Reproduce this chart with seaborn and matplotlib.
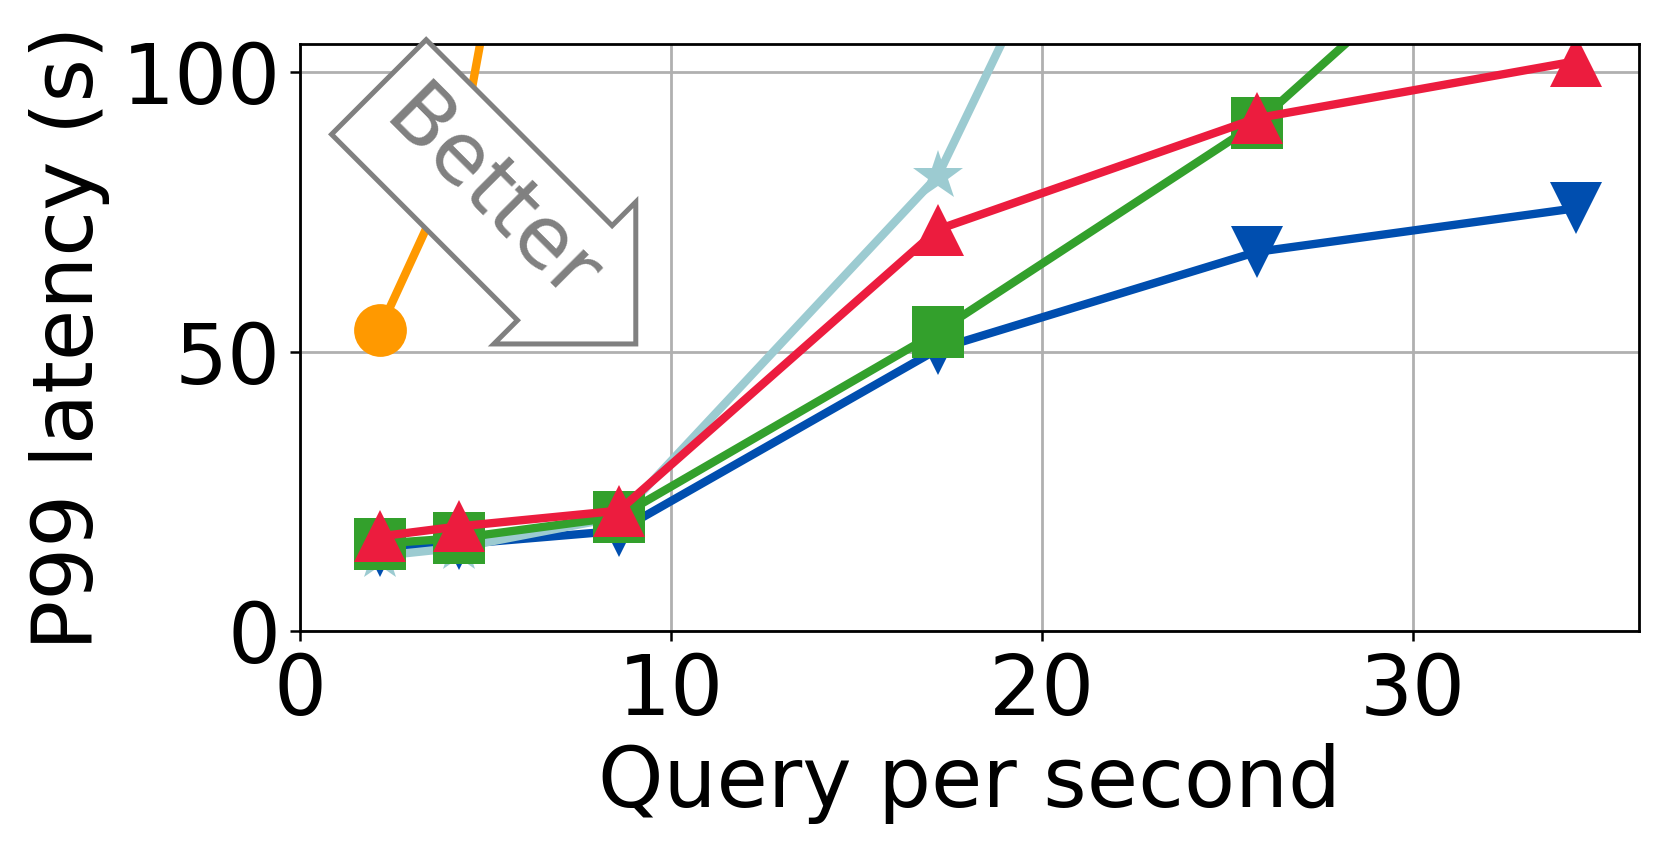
"""
P99 latency vs. query rate for several serving systems.
"""
import matplotlib
matplotlib.use("Agg")
import matplotlib.pyplot as plt
import seaborn as sns

# query rates (x) shared by every series
qps = [2.15, 4.3, 8.6, 17.2, 25.8, 34.4]

# P99 latency in seconds (points above 105 run off the top)
orange_lat = [54.0, 85.0, 240.0]
star_lat = [13.5, 15.0, 20.5, 81.5, 200.0]
blue_lat = [14.3, 15.6, 18.0, 50.5, 67.9, 75.7]
green_lat = [15.7, 16.7, 20.5, 53.6, 90.9, 142.0]
red_lat = [17.0, 18.8, 21.6, 71.9, 91.8, 102.0]

x_ticks = [0, 10, 20, 30]
y_ticks = [0, 50, 100]

series = [
    (orange_lat, "o", "#ff9900"),
    (blue_lat, "v", "#004eaf"),
    (star_lat, "*", "#9ccbd1"),
    (green_lat, "s", "#33a02c"),
    (red_lat, "^", "#ec1c3e"),
]

sns.set_style("ticks")
plt.rcParams["font.family"] = ["DejaVu Sans"]
plt.rcParams["text.color"] = "black"
plt.rcParams["axes.labelcolor"] = "black"
plt.rcParams["xtick.color"] = "black"
plt.rcParams["ytick.color"] = "black"

fig = plt.figure(figsize=(8.305, 4.26), dpi=200)
ax = fig.add_axes([0.1806, 0.2589, 0.806, 0.6889])

for vals, marker, color in series:
    sns.lineplot(x=qps[:len(vals)], y=vals, marker=marker, markersize=19,
                 markeredgewidth=0, color=color, linewidth=3, ax=ax)

ax.set_xlim(0, 36.1)
ax.set_ylim(0, 105)
ax.set_xticks(x_ticks)
ax.set_yticks(y_ticks)
ax.tick_params(labelsize=30, length=3.5, width=0.9, colors="black")
ax.grid(True, color="#b0b0b0", linewidth=1.0)
ax.set_axisbelow(True)
for s in ax.spines.values():
    s.set_color("black")
    s.set_linewidth(1.0)

ax.set_xlabel("Query per second", fontsize=30, color="black")
ax.set_ylabel("P99 latency (s)", fontsize=30, color="black")

# "Better" arrow pointing down-right
ax.text(0.142, 0.738, "Better", transform=ax.transAxes, rotation=-45,
        ha="center", va="center", fontsize=30.5, color="#808080", zorder=10,
        bbox=dict(boxstyle="rarrow,pad=0.3", fc="white", ec="#808080", lw=1.8))

fig.savefig("out.png", dpi=200)
